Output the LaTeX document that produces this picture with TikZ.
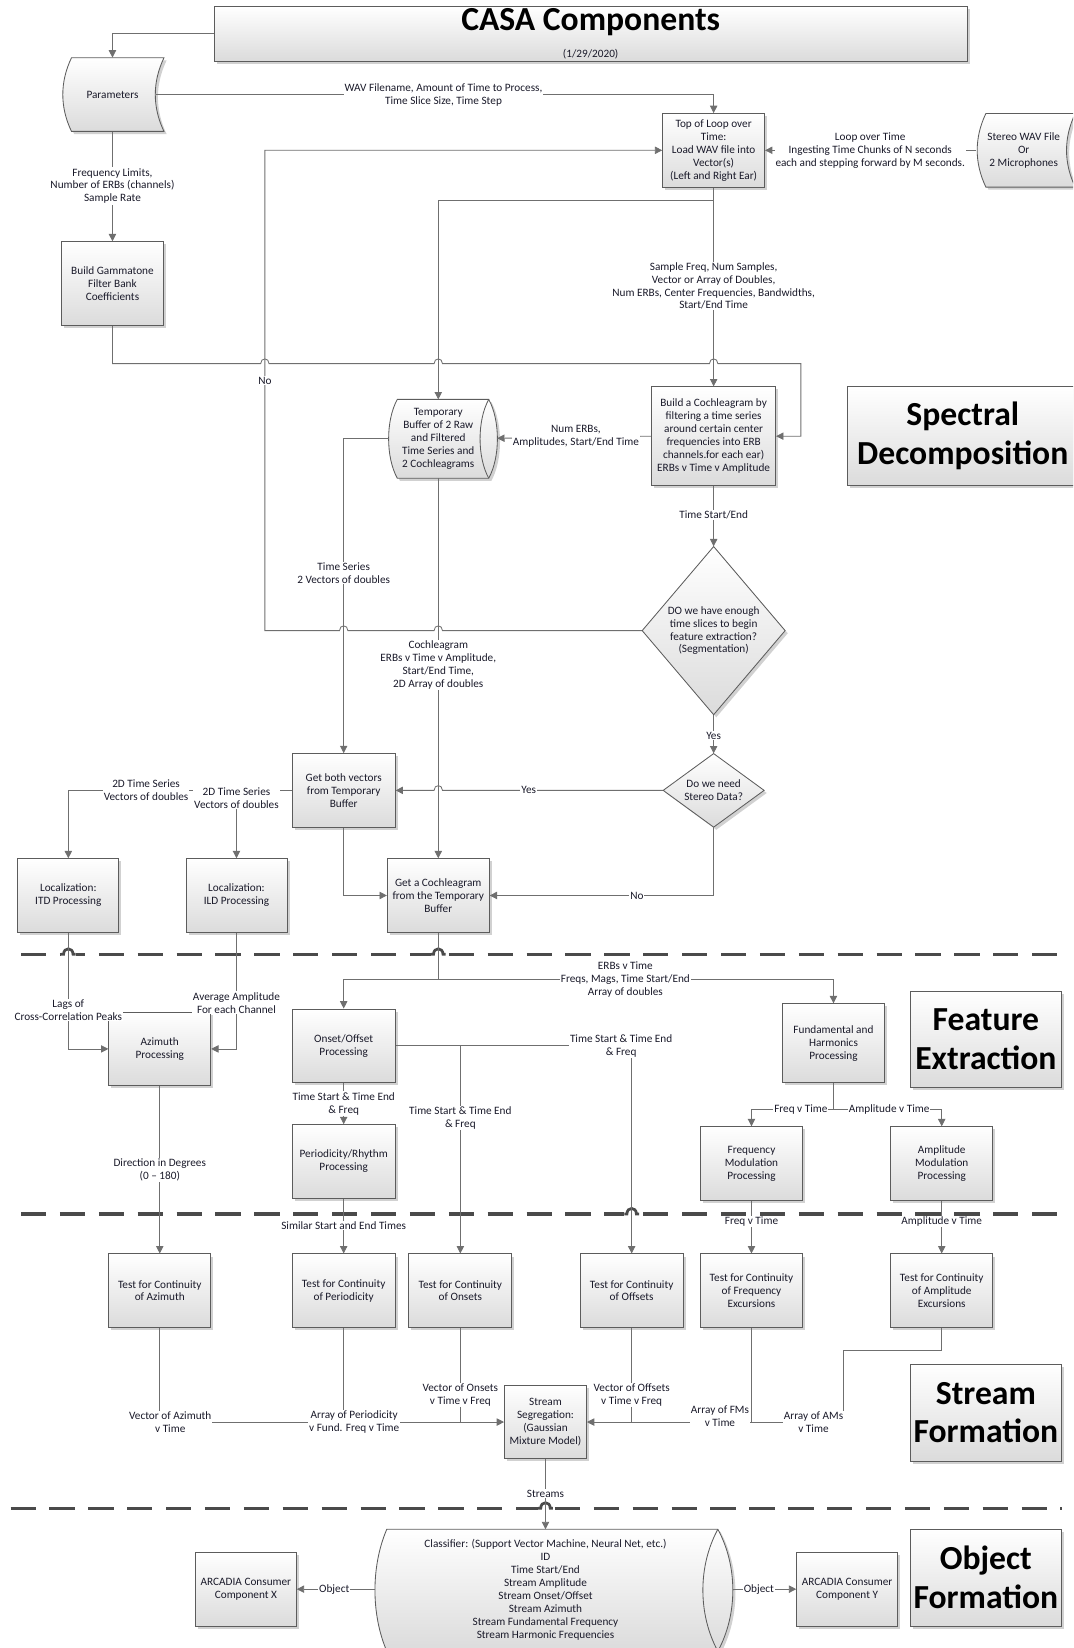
\documentclass[tikz,border=0pt]{standalone}
\usepackage{fontspec}
\setmainfont{Carlito}
\usetikzlibrary{shadows,arrows.meta}
\definecolor{lnc}{HTML}{6F6F6F}
\definecolor{bdc}{HTML}{5C5C5C}
\definecolor{txc}{HTML}{1A1A2A}
\definecolor{dshc}{HTML}{4A4A4A}
\begin{document}
\begin{tikzpicture}[x=1pt,y=-1pt,
 base/.style={text=txc, font=\fontsize{10.7}{12.3}\selectfont, align=center},
 shd/.style={drop shadow={shadow xshift=2.5pt, shadow yshift=-2.5pt, fill=black, opacity=0.18}},
 box/.style={base, draw=bdc, line width=0.8pt, top color=white, bottom color=black!14, inner sep=1pt, shd},
 shp/.style={draw=bdc, line width=0.8pt, top color=white, bottom color=black!14, shd},
 hid/.style={base, inner sep=0pt},
 big/.style={box, font=\fontsize{32}{37}\selectfont\bfseries, text=black},
 lbl/.style={base, fill=white, inner sep=0.8pt},
 conn/.style={draw=lnc, line width=0.8pt},
 arr/.style={conn, -{Triangle[length=7pt,width=7pt]}},
 sep/.style={draw=dshc, line width=3pt, dash pattern=on 24pt off 13pt}]
\useasboundingbox (0,0) rectangle (1021,1568);
\clip (0,0) rectangle (1021,1568);

% separators
\draw[sep] (20,908) -- (1010,908);
\draw[sep] (20,1155) -- (1010,1155);
\draw[sep] (10,1435) -- (1010,1435);
\foreach \hx/\hy in {65/908,417/908,601/1155,519/1435}{
  \fill[white] ({\hx-7},{\hy-3}) rectangle ({\hx+7},{\hy+3});
  \draw[dshc, line width=2.6pt] ({\hx-7},\hy) -- ({\hx-4.5},\hy) .. controls ({\hx-4.5},{\hy-7}) and ({\hx+4.5},{\hy-7}) .. ({\hx+4.5},\hy) -- ({\hx+7},\hy);
}

% title
\node[box, minimum width=716pt, minimum height=52pt] (title) at (562,32) {};
\node[base, font=\fontsize{32}{36}\selectfont\bfseries, text=black] (ttl) at (562,21.5) {CASA Components};
\node[base] (date) at (562,52) {(1/29/2020)};

% stored data shapes
\path[shp] (68,55) -- (156,55) .. controls (145,78) and (145,102) .. (156,125) -- (68,125) .. controls (57,102) and (57,78) .. (68,55) -- cycle;
\node[hid, minimum width=82pt, minimum height=70pt] (params) at (107,90) {Parameters};
\path[shp] (938,108) -- (1023,108) .. controls (1012,131) and (1012,155) .. (1023,178) -- (938,178) .. controls (927,155) and (927,131) .. (938,108) -- cycle;
\node[hid, minimum width=90pt, minimum height=70pt] (wav) at (974,143) {Stereo WAV File\\Or\\2 Microphones};

% buffer
\path[shp] (378,380) -- (465,380) .. controls (476,400) and (476,435) .. (465,455) -- (378,455) .. controls (367,435) and (367,400) .. (378,380) -- cycle;
\draw[draw=bdc, line width=0.8pt] (465,380) .. controls (454,400) and (454,435) .. (465,455);
\node[hid, minimum width=96pt, minimum height=75pt] (buf) at (417,417.5) {Temporary\\Buffer of 2 Raw\\and Filtered\\Time Series and\\2 Cochleagrams};
\coordinate (bufW) at (370,417);
\coordinate (bufE) at (473,417);

% classifier
\path[shp] (368,1455) -- (683,1455) .. controls (702,1490) and (702,1536) .. (683,1571) -- (368,1571) .. controls (353,1536) and (353,1490) .. (368,1455) -- cycle;
\draw[draw=bdc, line width=0.8pt] (683,1455) .. controls (664,1490) and (664,1536) .. (683,1571);
\node[hid] (cls) at (519,1512.5) {Classifier: (Support Vector Machine, Neural Net, etc.)\\ID\\Time Start/End\\Stream Amplitude\\Stream Onset/Offset\\Stream Azimuth\\Stream Fundamental Frequency\\Stream Harmonic Frequencies};
\coordinate (clsL) at (357,1512);
\coordinate (clsR) at (697,1512);
\coordinate (clsT) at (519,1455);

% diamonds
\path[shp] (679,520) -- (747,600) -- (679,680) -- (611,600) -- cycle;
\node[hid, minimum width=136pt, minimum height=160pt] (d1) at (679,600) {DO we have enough\\time slices to begin\\feature extraction?\\(Segmentation)};
\path[shp] (679,717) -- (727,752) -- (679,787) -- (631,752) -- cycle;
\node[hid, minimum width=96pt, minimum height=70pt] (d2) at (679,752) {Do we need\\Stereo Data?};

% boxes
\node[box, minimum width=97pt, minimum height=70pt] (loop) at (679,143) {Top of Loop over\\Time:\\Load WAV file into\\Vector(s)\\(Left and Right Ear)};
\node[box, minimum width=97pt, minimum height=80pt] (gam) at (107,270) {Build Gammatone\\Filter Bank\\Coefficients};
\node[box, minimum width=118pt, minimum height=94pt] (cochl) at (679,415) {Build a Cochleagram by\\filtering a time series\\around certain center\\frequencies into ERB\\channels.for each ear)\\ERBs v Time v Amplitude};
\node[big, minimum width=220pt, minimum height=94pt] (spec) at (916,415) {Spectral\\Decomposition};
\node[box, minimum width=98pt, minimum height=70pt] (gboth) at (327,752) {Get both vectors\\from Temporary\\Buffer};
\node[box, minimum width=97pt, minimum height=70pt] (gcoch) at (417,852) {Get a Cochleagram\\from the Temporary\\Buffer};
\node[box, minimum width=96pt, minimum height=70pt] (itd) at (65,852) {Localization:\\ITD Processing};
\node[box, minimum width=96pt, minimum height=70pt] (ild) at (225,852) {Localization:\\ILD Processing};
\node[box, minimum width=97pt, minimum height=70pt] (azi) at (152,998) {Azimuth\\Processing};
\node[box, minimum width=98pt, minimum height=70pt] (onset) at (327,995) {Onset/Offset\\Processing};
\node[box, minimum width=97pt, minimum height=75pt] (fund) at (793,992.5) {Fundamental and\\Harmonics\\Processing};
\node[big, minimum width=144pt, minimum height=92pt] (featx) at (938,989) {Feature\\Extraction};
\node[box, minimum width=98pt, minimum height=70pt] (peri) at (327,1105) {Periodicity/Rhythm\\Processing};
\node[box, minimum width=97pt, minimum height=70pt] (fm) at (715,1107) {Frequency\\Modulation\\Processing};
\node[box, minimum width=97pt, minimum height=70pt] (am) at (896,1107) {Amplitude\\Modulation\\Processing};
\node[box, minimum width=97pt, minimum height=70pt] (tazi) at (152,1228) {Test for Continuity\\of Azimuth};
\node[box, minimum width=98pt, minimum height=70pt] (tper) at (327,1228) {Test for Continuity\\of Periodicity};
\node[box, minimum width=98pt, minimum height=70pt] (tons) at (438,1228) {Test for Continuity\\of Onsets};
\node[box, minimum width=98pt, minimum height=70pt] (toff) at (601,1228) {Test for Continuity\\of Offsets};
\node[box, minimum width=97pt, minimum height=70pt] (tfm) at (715,1228) {Test for Continuity\\of Frequency\\Excursions};
\node[box, minimum width=97pt, minimum height=70pt] (tam) at (896,1228) {Test for Continuity\\of Amplitude\\Excursions};
\node[box, minimum width=78pt, minimum height=70pt] (seg) at (519,1353) {Stream\\Segregation:\\(Gaussian\\Mixture Model)};
\node[big, minimum width=144pt, minimum height=92pt] (strf) at (938,1344) {Stream\\Formation};
\node[box, minimum width=96pt, minimum height=70pt] (arcx) at (234,1512) {ARCADIA Consumer\\Component X};
\node[box, minimum width=96pt, minimum height=70pt] (arcy) at (806,1512) {ARCADIA Consumer\\Component Y};
\node[big, minimum width=144pt, minimum height=92pt] (objf) at (938,1501) {Object\\Formation};

% connectors
\draw[arr] (title.west) -| (params.north);
\draw[arr] (params.east) -| (loop.north);
\draw[arr] (wav.west) -- (loop.east);
\draw[arr] (params.south) -- (gam.north);
\draw[arr] (gam.south) -- (107,346) -- (248,346) .. controls (248,340) and (256,340) .. (256,346) -- (413,346) .. controls (413,340) and (421,340) .. (421,346) -- (675,346) .. controls (675,340) and (683,340) .. (683,346) -- (762,346) -- (762,415) -- (cochl.east);
\draw[arr] (loop.south) -- (cochl.north);
\coordinate (j1) at (679,191);
\draw[arr] (j1) -| (417,380);
\draw[arr] (d1.west) -- (421,600) .. controls (421,594) and (413,594) .. (413,600) -- (331,600) .. controls (331,594) and (323,594) .. (323,600) -- (252,600) -- (252,143) -- (loop.west);
\draw[arr] (cochl.west) -- (bufE);
\draw[arr] (cochl.south) -- (d1.north);
\draw[arr] (d1.south) -- (d2.north);
\draw[arr] (d2.west) -- (421,752) .. controls (421,746) and (413,746) .. (413,752) -- (gboth.east);
\draw[arr] (d2.south) |- (gcoch.east);
\draw[arr] (bufW) -| (gboth.north);
\draw[arr] (buf.south) -- (gcoch.north);
\draw[arr] (gboth.south) |- (gcoch.west);
\draw[arr] (gboth.west) -| (itd.north);
\coordinate (j2) at (225,752);
\draw[arr] (j2) -- (ild.north);
\draw[arr] (itd.south) |- (azi.west);
\draw[arr] (ild.south) |- (azi.east);
\coordinate (j3) at (417,932);
\draw[conn] (gcoch.south) -- (j3);
\draw[arr] (j3) -| (onset.north);
\draw[arr] (j3) -| (fund.north);
\draw[arr] (onset.east) -- (601,995) -- (toff.north);
\coordinate (j4) at (438,995);
\draw[arr] (j4) -- (tons.north);
\draw[arr] (onset.south) -- (peri.north);
\draw[arr] (peri.south) -- (tper.north);
\draw[arr] (azi.south) -- (tazi.north);
\coordinate (j5) at (793,1056);
\draw[conn] (fund.south) -- (j5);
\draw[arr] (j5) -| (fm.north);
\draw[arr] (j5) -| (am.north);
\draw[arr] (fm.south) -- (tfm.north);
\draw[arr] (am.south) -- (tam.north);
\draw[arr] (tazi.south) |- (seg.west);
\draw[conn] (tper.south) -- (tper.south |- seg.west);
\draw[conn] (tons.south) -- (tons.south |- seg.west);
\draw[arr] (tam.south) -- (896,1285) -- (802,1285) -- (802,1353) -- (seg.east);
\draw[conn] (toff.south) -- (toff.south |- seg.east);
\draw[conn] (tfm.south) -- (tfm.south |- seg.east);
\draw[arr] (seg.south) -- (clsT);
\draw[arr] (clsL) -- (arcx.east);
\draw[arr] (clsR) -- (arcy.west);

% labels
\node[lbl] (l1) at (422,90) {WAV Filename, Amount of Time to Process,\\Time Slice Size, Time Step};
\node[lbl] (l2) at (828,143) {Loop over Time\\Ingesting Time Chunks of N seconds\\each and stepping forward by M seconds.};
\node[lbl] (l3) at (107,177) {Frequency Limits,\\Number of ERBs (channels)\\Sample Rate};
\node[lbl] (l4) at (679,272) {Sample Freq, Num Samples,\\Vector or Array of Doubles,\\Num ERBs, Center Frequencies, Bandwidths,\\Start/End Time};
\node[lbl] (l5) at (252,362) {No};
\node[lbl] (l6) at (548,415) {Num ERBs,\\Amplitudes, Start/End Time};
\node[lbl] (l7) at (679,490) {Time Start/End};
\node[lbl] (l8) at (327,545) {Time Series\\2 Vectors of doubles};
\node[lbl] (l9) at (417,633) {Cochleagram\\ERBs v Time v Amplitude,\\Start/End Time,\\2D Array of doubles};
\node[lbl] (l10) at (679,700) {Yes};
\node[lbl] (l11) at (503,752) {Yes};
\node[lbl] (l12) at (606,852) {No};
\node[lbl] (l13) at (139,752) {2D Time Series\\Vectors of doubles};
\node[lbl] (l14) at (225,759) {2D Time Series\\Vectors of doubles};
\node[lbl] (l15) at (65,961) {Lags of\\Cross-Correlation Peaks};
\node[lbl] (l16) at (225,954) {Average Amplitude\\For each Channel};
\node[lbl] (l17) at (595,932) {ERBs v Time\\Freqs, Mags, Time Start/End\\Array of doubles};
\node[lbl] (l18) at (591,995) {Time Start \& Time End\\\& Freq};
\node[lbl] (l19) at (327,1050) {Time Start \& Time End\\\& Freq};
\node[lbl] (l20) at (438,1064) {Time Start \& Time End\\\& Freq};
\node[lbl] (l21) at (152,1113) {Direction in Degrees\\(0 – 180)};
\node[lbl] (l22) at (762,1056) {Freq v Time};
\node[lbl] (l23) at (846,1056) {Amplitude v Time};
\node[lbl] (l24) at (327,1166) {Similar Start and End Times};
\node[lbl] (l25) at (715,1162) {Freq v Time};
\node[lbl] (l26) at (896,1162) {Amplitude v Time};
\node[lbl] (l27) at (162,1353) {Vector of Azimuth\\v Time};
\node[lbl] (l28) at (337,1353) {Array of Periodicity\\v Fund. Freq v Time};
\node[lbl] (l29) at (438,1327) {Vector of Onsets\\v Time v Freq};
\node[lbl] (l30) at (601,1327) {Vector of Offsets\\v Time v Freq};
\node[lbl] (l31) at (685,1347) {Array of FMs\\v Time};
\node[lbl] (l32) at (774,1353) {Array of AMs\\v Time};
\node[lbl] (l33) at (519,1421) {Streams};
\node[lbl] (l34) at (318,1512) {Object};
\node[lbl] (l35) at (722,1512) {Object};
\end{tikzpicture}
\end{document}
